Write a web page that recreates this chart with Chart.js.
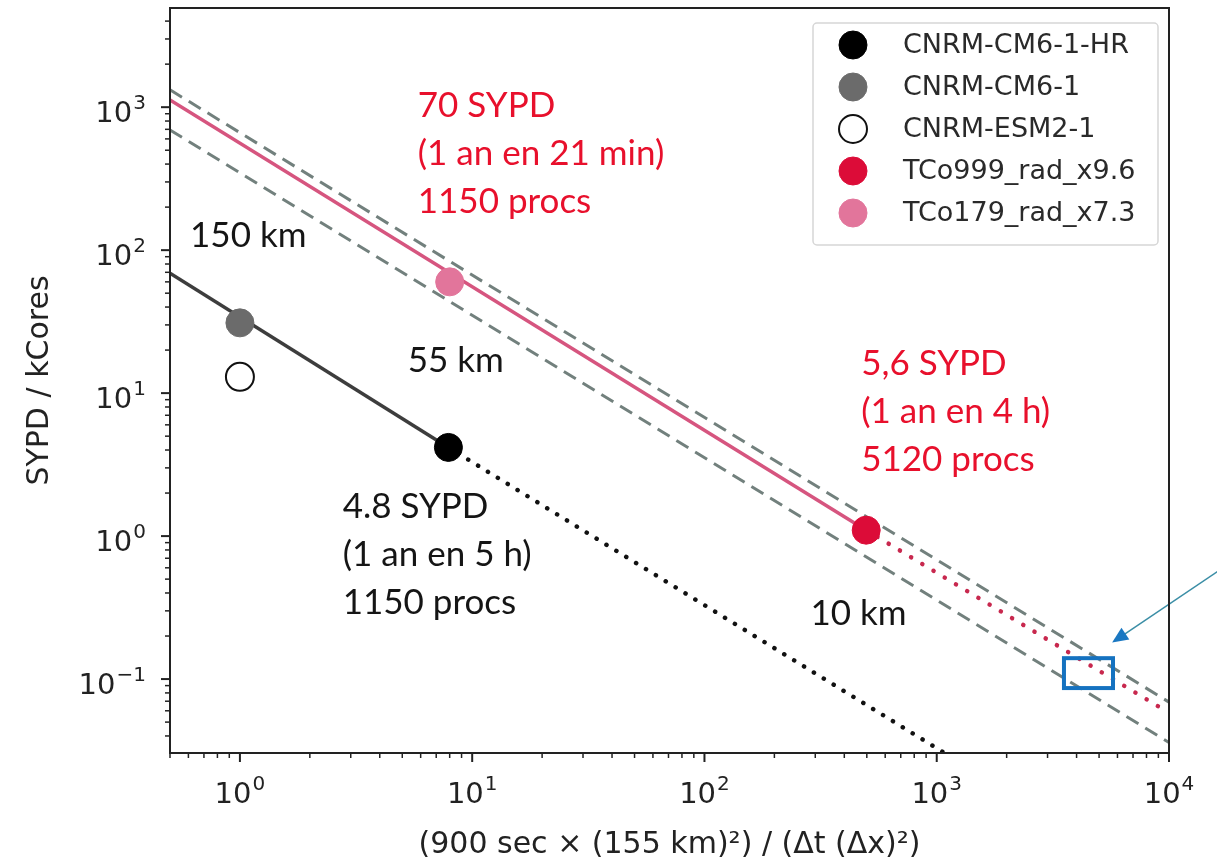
<!DOCTYPE html>
<html>
<head>
<meta charset="utf-8">
<script src="https://cdn.jsdelivr.net/npm/chart.js@4.4.1/dist/chart.umd.min.js"></script>
<style>
  html, body { margin: 0; padding: 0; background: #fff; }
  #wrap { width: 1217px; height: 859px; }
</style>
</head>
<body>
<div id="wrap"><canvas id="chart" width="1217" height="859"></canvas></div>
<script>
// ---- data ----
const models = ['CNRM-CM6-1-HR', 'CNRM-CM6-1', 'CNRM-ESM2-1', 'TCo999_rad_x9.6', 'TCo179_rad_x7.3'];
const modelX = [7.9, 1, 1, 497, 8];
const modelY = [4.17, 31, 13, 1.1, 60];

// fitted lines (end points)
const cnrmFitX = [0.5, 7.9];
const cnrmFitY = [69, 4.17];
const cnrmExtX = [7.9, 1060];
const cnrmExtY = [4.17, 0.031];
const ifsFitX = [0.5, 497];
const ifsFitY = [1125, 1.1];
const ifsExtX = [497, 10000];
const ifsExtY = [1.1, 0.058];
const upperX = [0.5, 10000];
const upperY = [1322, 0.069];
const lowerX = [0.5, 10000];
const lowerY = [693, 0.036];

// ticks: value, base and exponent of the label
const xMajorTicks = [1, 10, 100, 1000, 10000];
const xTickLabels = [['10', '0'], ['10', '1'], ['10', '2'], ['10', '3'], ['10', '4']];
const yMajorTicks = [0.01, 0.1, 1, 10, 100, 1000];
const yTickLabels = [['10', '−2'], ['10', '−1'], ['10', '0'], ['10', '1'], ['10', '2'], ['10', '3']];

// annotation texts
const labelHR = ['4.8 SYPD', '(1 an en 5 h)', '1150 procs'];
const labelTCo179 = ['70 SYPD', '(1 an en 21 min)', '1150 procs'];
const labelTCo999 = ['5,6 SYPD', '(1 an en 4 h)', '5120 procs'];
const resLabels = ['150 km', '55 km', '10 km'];

// ---- styles ----
const pointColors = ['#000000', '#6b6b6b', '#ffffff', '#dc0c38', '#e2759b'];
const pointBorders = ['#000000', '#6b6b6b', '#111111', '#dc0c38', '#e2759b'];
const noteFont = '35px Lato';

const notes = [
  { lines: labelTCo179, x: 5.83, y: 855, color: '#e8102c' },
  { lines: labelTCo999, x: 473, y: 13.4, color: '#e8102c' },
  { lines: labelHR, x: 2.77, y: 1.34, color: '#151515' },
  { lines: [resLabels[0]], x: 0.61, y: 105, color: '#151515' },
  { lines: [resLabels[1]], x: 5.28, y: 14.1, color: '#151515' },
  { lines: [resLabels[2]], x: 286, y: 0.24, color: '#151515' }
];
const zoomBox = { x0: 3530, x1: 5740, y0: 0.0865, y1: 0.14 };
const arrow = { x0: 18100, y0: 0.64, x1: 5690, y1: 0.18 };

function xy(xs, ys) {
  return xs.map((x, i) => ({ x: x, y: ys[i] }));
}

function minorTicks(majors, lo, hi) {
  const out = [];
  majors.forEach(m => {
    for (let k = 1; k <= 9; k++) {
      const v = m * k;
      if (v >= lo * 0.9999 && v <= hi * 1.0001) out.push({ value: v, major: k === 1 });
    }
  });
  return out;
}

const xMin = 0.5, xMax = 10000, yMin = 0.0304, yMax = 4940;

const pointSets = models.map((name, i) => ({
  type: 'scatter',
  label: name,
  data: [{ x: modelX[i], y: modelY[i] }],
  backgroundColor: pointColors[i],
  borderColor: pointBorders[i],
  borderWidth: i === 2 ? 2 : 1,
  pointRadius: 14,
  isModel: true
}));

function lineSet(xs, ys, color, width, dash, cap) {
  return {
    type: 'line',
    data: xy(xs, ys),
    borderColor: color,
    borderWidth: width,
    borderDash: dash,
    borderCapStyle: cap || 'butt',
    pointRadius: 0,
    fill: false,
    tension: 0,
    clip: 0
  };
}

const lineSets = [
  lineSet(cnrmFitX, cnrmFitY, '#3d3d3d', 3.5, []),
  lineSet(cnrmExtX, cnrmExtY, '#111111', 4.5, [0.1, 11.5], 'round'),
  lineSet(ifsFitX, ifsFitY, '#d6557f', 3.5, []),
  lineSet(ifsExtX, ifsExtY, '#c8284e', 4.5, [0.1, 13], 'round'),
  lineSet(upperX, upperY, '#72807d', 3, [14, 8]),
  lineSet(lowerX, lowerY, '#72807d', 3, [14, 8])
];

function drawPowerLabel(ctx, parts, px, baseY, align) {
  ctx.font = '29px "DejaVu Sans"';
  const wb = ctx.measureText(parts[0]).width;
  ctx.font = '20px "DejaVu Sans"';
  const we = ctx.measureText(parts[1]).width;
  const total = wb + we + 1;
  const left = align === 'center' ? px - total / 2 : px - total;
  ctx.font = '29px "DejaVu Sans"';
  ctx.fillText(parts[0], left, baseY);
  ctx.font = '20px "DejaVu Sans"';
  ctx.fillText(parts[1], left + wb + 1, baseY - 13);
}

// ticks, frame, notes and legend
const extras = {
  id: 'extras',
  afterDatasetsDraw(chart) {
    const ctx = chart.ctx;
    const xs = chart.scales.x, ys = chart.scales.y;
    ctx.save();
    ctx.font = noteFont;
    ctx.textBaseline = 'alphabetic';
    ctx.textAlign = 'left';
    notes.forEach(n => {
      ctx.fillStyle = n.color;
      const px = xs.getPixelForValue(n.x), py = ys.getPixelForValue(n.y);
      n.lines.forEach((t, i) => ctx.fillText(t, px, py + i * 48));
    });

    // blue box
    ctx.strokeStyle = '#1572c0';
    ctx.lineWidth = 4;
    const bx0 = xs.getPixelForValue(zoomBox.x0), bx1 = xs.getPixelForValue(zoomBox.x1);
    const by0 = ys.getPixelForValue(zoomBox.y1), by1 = ys.getPixelForValue(zoomBox.y0);
    ctx.strokeRect(bx0, by0, bx1 - bx0, by1 - by0);

    // arrow
    const ax0 = xs.getPixelForValue(arrow.x0), ay0 = ys.getPixelForValue(arrow.y0);
    const ax1 = xs.getPixelForValue(arrow.x1), ay1 = ys.getPixelForValue(arrow.y1);
    const ang = Math.atan2(ay1 - ay0, ax1 - ax0);
    ctx.strokeStyle = '#3b8ea6';
    ctx.lineWidth = 1.5;
    ctx.beginPath();
    ctx.moveTo(ax0, ay0);
    ctx.lineTo(ax1 - 12 * Math.cos(ang), ay1 - 12 * Math.sin(ang));
    ctx.stroke();
    ctx.fillStyle = '#1a78c2';
    ctx.beginPath();
    ctx.moveTo(ax1, ay1);
    ctx.lineTo(ax1 - 16 * Math.cos(ang) + 7 * Math.sin(ang), ay1 - 16 * Math.sin(ang) - 7 * Math.cos(ang));
    ctx.lineTo(ax1 - 16 * Math.cos(ang) - 7 * Math.sin(ang), ay1 - 16 * Math.sin(ang) + 7 * Math.cos(ang));
    ctx.closePath();
    ctx.fill();
    ctx.restore();
  },
  afterDraw(chart) {
    const ctx = chart.ctx;
    const a = chart.chartArea;
    const xs = chart.scales.x, ys = chart.scales.y;
    ctx.save();
    ctx.strokeStyle = '#222';
    ctx.fillStyle = '#222';
    ctx.textBaseline = 'alphabetic';
    ctx.textAlign = 'left';
    // tick marks and labels
    xs.ticks.forEach(t => {
      const p = xs.getPixelForValue(t.value);
      ctx.lineWidth = t.major ? 2 : 1.5;
      ctx.beginPath();
      ctx.moveTo(p, a.bottom);
      ctx.lineTo(p, a.bottom + (t.major ? 9 : 5));
      ctx.stroke();
      const i = xMajorTicks.findIndex(m => Math.abs(m - t.value) / m < 1e-6);
      if (i >= 0) drawPowerLabel(ctx, xTickLabels[i], p, a.bottom + 50, 'center');
    });
    ys.ticks.forEach(t => {
      const p = ys.getPixelForValue(t.value);
      ctx.lineWidth = t.major ? 2 : 1.5;
      ctx.beginPath();
      ctx.moveTo(a.left, p);
      ctx.lineTo(a.left - (t.major ? 9 : 5), p);
      ctx.stroke();
      const i = yMajorTicks.findIndex(m => Math.abs(m - t.value) / m < 1e-6);
      if (i >= 0) drawPowerLabel(ctx, yTickLabels[i], a.left - 24, p + 15, 'right');
    });
    // frame
    ctx.lineWidth = 2;
    ctx.strokeRect(a.left, a.top, a.right - a.left, a.bottom - a.top);

    // legend
    const lx = a.right - 356, ly = a.top + 15, lw = 345, lh = 222;
    ctx.fillStyle = 'rgba(255,255,255,0.85)';
    ctx.strokeStyle = '#d6d6d6';
    ctx.lineWidth = 1.5;
    ctx.beginPath();
    ctx.roundRect(lx, ly, lw, lh, 4);
    ctx.fill();
    ctx.stroke();
    ctx.font = '27px "DejaVu Sans"';
    ctx.textBaseline = 'middle';
    chart.data.datasets.filter(d => d.isModel).forEach((d, i) => {
      const cy = ly + 22 + i * 42;
      ctx.beginPath();
      ctx.arc(lx + 40, cy, 14, 0, Math.PI * 2);
      ctx.fillStyle = d.backgroundColor;
      ctx.fill();
      ctx.lineWidth = d.borderWidth;
      ctx.strokeStyle = d.borderColor;
      ctx.stroke();
      ctx.fillStyle = '#2a2a2a';
      ctx.fillText(d.label, lx + 90, cy + 1);
    });
    ctx.restore();
  }
};

new Chart(document.getElementById('chart'), {
  type: 'scatter',
  data: { datasets: pointSets.concat(lineSets) },
  options: {
    responsive: false,
    animation: false,
    layout: { autoPadding: false, padding: { top: 8, right: 48, left: 0, bottom: 0 } },
    plugins: { legend: { display: false }, tooltip: { enabled: false } },
    scales: {
      x: {
        type: 'logarithmic',
        min: xMin,
        max: xMax,
        afterFit: s => { s.height = 106; s.paddingLeft = 0; s.paddingRight = 0; },
        afterBuildTicks: s => { s.ticks = minorTicks([0.1].concat(xMajorTicks), xMin, xMax); },
        grid: { display: false, drawTicks: false },
        border: { display: false },
        ticks: { display: false, autoSkip: false },
        title: {
          display: true,
          text: '(900 sec × (155 km)²) / (Δt (Δx)²)',
          color: '#222',
          font: { family: 'DejaVu Sans', size: 30, lineHeight: 0.9 },
          padding: { top: 0, bottom: 0 }
        }
      },
      y: {
        type: 'logarithmic',
        min: yMin,
        max: yMax,
        afterFit: s => { s.width = 170; s.paddingTop = 0; s.paddingBottom = 0; },
        afterBuildTicks: s => { s.ticks = minorTicks(yMajorTicks, yMin, yMax); },
        grid: { display: false, drawTicks: false },
        border: { display: false },
        ticks: { display: false, autoSkip: false },
        title: {
          display: true,
          text: 'SYPD / kCores',
          color: '#222',
          font: { family: 'DejaVu Sans', size: 30, lineHeight: 1 },
          padding: { top: 25, bottom: 0 }
        }
      }
    }
  },
  plugins: [extras]
});
</script>
</body>
</html>
